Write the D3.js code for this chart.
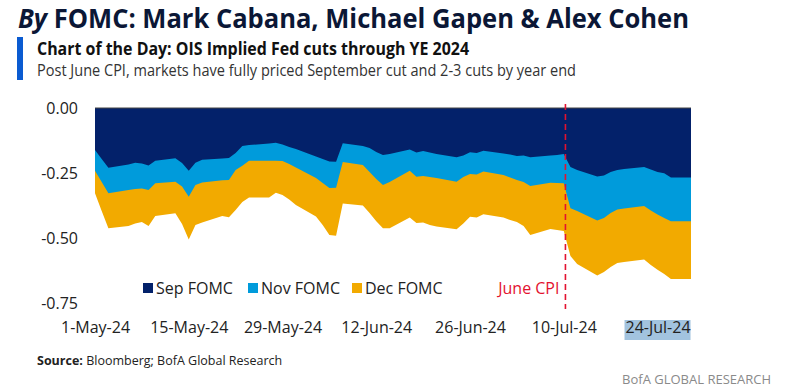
<!DOCTYPE html>
<html>
<head>
<meta charset="utf-8">
<script src="https://cdn.jsdelivr.net/npm/d3@7"></script>
<style>
  body { margin: 0; background: #fff; }
  svg { display: block; font-family: "Open Sans", sans-serif; }
</style>
</head>
<body>
<div id="chart"></div>
<script>
var svgWidth = 786;
var svgHeight = 391;

// business days in the sample
var dates = [
  "2024-05-01", "2024-05-02", "2024-05-03", "2024-05-06", "2024-05-07", "2024-05-08", "2024-05-09", "2024-05-10",
  "2024-05-13", "2024-05-14", "2024-05-15", "2024-05-16", "2024-05-17", "2024-05-20", "2024-05-21", "2024-05-22",
  "2024-05-23", "2024-05-24", "2024-05-27", "2024-05-28", "2024-05-29", "2024-05-30", "2024-05-31", "2024-06-03",
  "2024-06-04", "2024-06-05", "2024-06-06", "2024-06-07", "2024-06-10", "2024-06-11", "2024-06-12", "2024-06-13",
  "2024-06-14", "2024-06-17", "2024-06-18", "2024-06-19", "2024-06-20", "2024-06-21", "2024-06-24", "2024-06-25",
  "2024-06-26", "2024-06-27", "2024-06-28", "2024-07-01", "2024-07-02", "2024-07-03", "2024-07-04", "2024-07-05",
  "2024-07-08", "2024-07-09", "2024-07-10", "2024-07-11", "2024-07-12", "2024-07-15", "2024-07-16", "2024-07-17",
  "2024-07-18", "2024-07-19", "2024-07-22", "2024-07-23", "2024-07-24", "2024-07-25", "2024-07-26", "2024-07-29"
];

// cumulative cuts priced by each meeting (pct points)
var sepFomc = [
  -0.161, -0.196, -0.229, -0.217, -0.210, -0.213, -0.221, -0.202,
  -0.193, -0.211, -0.241, -0.210, -0.199, -0.194, -0.192, -0.173,
  -0.146, -0.142, -0.136, -0.133, -0.140, -0.150, -0.157, -0.186,
  -0.196, -0.205, -0.206, -0.135, -0.146, -0.153, -0.169, -0.180,
  -0.176, -0.159, -0.171, -0.165, -0.171, -0.176, -0.189, -0.182,
  -0.170, -0.173, -0.164, -0.175, -0.178, -0.184, -0.182, -0.189,
  -0.182, -0.180, -0.176, -0.226, -0.238, -0.263, -0.259, -0.246,
  -0.238, -0.234, -0.226, -0.236, -0.246, -0.250, -0.267, -0.267
];
var novFomc = [
  -0.241, -0.284, -0.327, -0.315, -0.311, -0.309, -0.315, -0.289,
  -0.283, -0.301, -0.340, -0.295, -0.286, -0.277, -0.276, -0.238,
  -0.222, -0.202, -0.202, -0.202, -0.203, -0.215, -0.228, -0.269,
  -0.288, -0.307, -0.306, -0.207, -0.219, -0.246, -0.272, -0.295,
  -0.284, -0.241, -0.264, -0.261, -0.265, -0.269, -0.283, -0.265,
  -0.253, -0.255, -0.244, -0.257, -0.267, -0.276, -0.284, -0.299,
  -0.287, -0.288, -0.289, -0.385, -0.395, -0.432, -0.422, -0.403,
  -0.389, -0.386, -0.376, -0.393, -0.409, -0.422, -0.434, -0.434
];
var decFomc = [
  -0.327, -0.395, -0.461, -0.453, -0.443, -0.437, -0.453, -0.414,
  -0.404, -0.445, -0.504, -0.449, -0.439, -0.414, -0.419, -0.391,
  -0.361, -0.343, -0.343, -0.325, -0.334, -0.351, -0.372, -0.416,
  -0.449, -0.487, -0.490, -0.366, -0.374, -0.403, -0.434, -0.461,
  -0.461, -0.420, -0.441, -0.439, -0.449, -0.455, -0.465, -0.443,
  -0.417, -0.420, -0.408, -0.420, -0.430, -0.437, -0.453, -0.487,
  -0.464, -0.468, -0.472, -0.568, -0.598, -0.643, -0.629, -0.610,
  -0.595, -0.591, -0.581, -0.602, -0.621, -0.637, -0.656, -0.656
];

var seriesNames = ["Sep FOMC", "Nov FOMC", "Dec FOMC"];
var seriesColors = ["#03216a", "#009bdb", "#f2aa00"];
var yTicks = [0, -0.25, -0.5, -0.75];
var xTickLabels = ["2024-05-01", "2024-05-15", "2024-05-29", "2024-06-12", "2024-06-26", "2024-07-10", "2024-07-24"];
var cpiDate = "2024-07-10T06:00";

var parseDate = d3.isoParse;

var svg = d3.select("#chart")
  .append("svg")
  .attr("width", svgWidth)
  .attr("height", svgHeight);

// header
svg.append("text")
  .attr("x", 18)
  .attr("y", 28)
  .attr("textLength", 671)
  .attr("lengthAdjust", "spacingAndGlyphs")
  .style("font-size", "26px")
  .style("font-weight", "700")
  .style("fill", "#0b1736")
  .html('<tspan font-style="italic">By</tspan> FOMC: Mark Cabana, Michael Gapen &amp; Alex Cohen');

svg.append("rect")
  .attr("x", 17)
  .attr("y", 37)
  .attr("width", 6)
  .attr("height", 43)
  .attr("fill", "#0a5bd1");

svg.append("text")
  .attr("x", 37)
  .attr("y", 55)
  .attr("textLength", 432)
  .attr("lengthAdjust", "spacingAndGlyphs")
  .style("font-size", "17px")
  .style("font-weight", "700")
  .style("fill", "#111")
  .text("Chart of the Day: OIS Implied Fed cuts through YE 2024");

svg.append("text")
  .attr("x", 37)
  .attr("y", 76)
  .attr("textLength", 539)
  .attr("lengthAdjust", "spacingAndGlyphs")
  .style("font-size", "16px")
  .style("fill", "#333")
  .text("Post June CPI, markets have fully priced September cut and 2-3 cuts by year end");

// scales
var xScale = d3.scaleTime()
  .domain([parseDate(dates[0]), parseDate(dates[dates.length - 1])])
  .range([95, 691]);

var yScale = d3.scaleLinear()
  .domain([-0.75, 0])
  .range([303.5, 108]);

var rows = dates.map(function(d, i) {
  return { date: parseDate(d), values: [sepFomc[i], novFomc[i], decFomc[i]] };
});

// draw largest (Dec) first, Sep on top
[2, 1, 0].forEach(function(k) {
  var area = d3.area()
    .x(d => xScale(d.date))
    .y0(yScale(0))
    .y1(d => yScale(d.values[k]));

  svg.append("path")
    .datum(rows)
    .attr("d", area)
    .attr("fill", seriesColors[k]);
});

svg.append("line")
  .attr("x1", xScale.range()[0])
  .attr("x2", xScale.range()[1])
  .attr("y1", yScale(0))
  .attr("y2", yScale(0))
  .attr("stroke", "#444")
  .attr("stroke-width", 1);

// y axis
var leftAxis = d3.axisLeft(yScale)
  .tickValues(yTicks)
  .tickSize(0)
  .tickPadding(17)
  .tickFormat(d => d.toFixed(2));

var yAxis = svg.append("g")
  .attr("transform", "translate(95, 0)")
  .call(leftAxis);
yAxis.select(".domain").remove();
yAxis.selectAll("text")
  .style("font-size", "16px")
  .style("fill", "#222")
  .style("font-family", "Open Sans, sans-serif");

// x axis labels
var xHighlight = parseDate(xTickLabels[xTickLabels.length - 1]);
svg.append("rect")
  .attr("x", xScale(xHighlight) - 33)
  .attr("y", 320)
  .attr("width", 66)
  .attr("height", 20)
  .attr("fill", "#a2c3df");

var bottomAxis = d3.axisBottom(xScale)
  .tickValues(xTickLabels.map(parseDate))
  .tickSize(0)
  .tickPadding(0)
  .tickFormat(d3.timeFormat("%-d-%b-%y"));

var xAxis = svg.append("g")
  .attr("transform", "translate(0, 322)")
  .call(bottomAxis);
xAxis.select(".domain").remove();
xAxis.selectAll("text")
  .style("font-size", "16px")
  .style("fill", "#222")
  .style("font-family", "Open Sans, sans-serif");

// June CPI marker
var cpiX = xScale(parseDate(cpiDate));
svg.append("line")
  .attr("x1", cpiX)
  .attr("x2", cpiX)
  .attr("y1", 104)
  .attr("y2", 309)
  .attr("stroke", "#e3122f")
  .attr("stroke-width", 1.6)
  .attr("stroke-dasharray", "6,4");

svg.append("text")
  .attr("x", cpiX - 6)
  .attr("y", 294)
  .attr("text-anchor", "end")
  .style("font-size", "16px")
  .style("fill", "#e3122f")
  .text("June CPI");

// legend
var legendX = [143, 248, 352];
var legend = svg.append("g");
seriesNames.forEach(function(name, i) {
  legend.append("rect")
    .attr("x", legendX[i])
    .attr("y", 283)
    .attr("width", 10)
    .attr("height", 10)
    .attr("fill", seriesColors[i]);
  legend.append("text")
    .attr("x", legendX[i] + 13)
    .attr("y", 294)
    .style("font-size", "16px")
    .style("fill", "#222")
    .text(name);
});

// footer
svg.append("text")
  .attr("x", 37)
  .attr("y", 365)
  .style("font-size", "12.5px")
  .style("fill", "#222")
  .html('<tspan font-weight="700">Source:</tspan> Bloomberg; BofA Global Research');

svg.append("text")
  .attr("x", 771)
  .attr("y", 384)
  .attr("text-anchor", "end")
  .style("font-size", "13px")
  .style("fill", "#8a8a8a")
  .text("BofA GLOBAL RESEARCH");
</script>
</body>
</html>
